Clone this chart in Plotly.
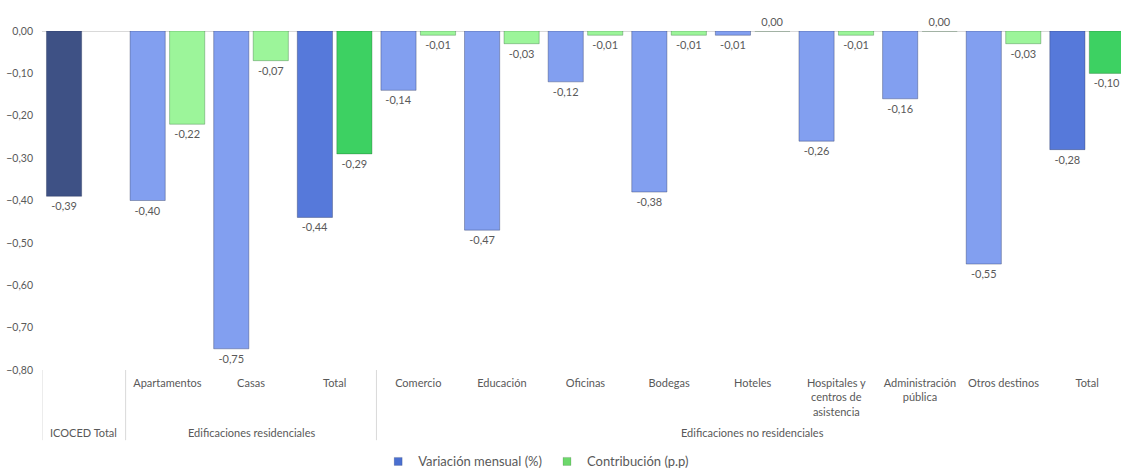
import plotly.graph_objects as go

# Category structure: sub-categories and the group each belongs to
grupos = ["ICOCED Total",
          "Edificaciones residenciales", "Edificaciones residenciales", "Edificaciones residenciales",
          "Edificaciones no residenciales", "Edificaciones no residenciales", "Edificaciones no residenciales",
          "Edificaciones no residenciales", "Edificaciones no residenciales", "Edificaciones no residenciales",
          "Edificaciones no residenciales", "Edificaciones no residenciales", "Edificaciones no residenciales"]
categorias = ["", "Apartamentos", "Casas", "Total",
              "Comercio", "Educación", "Oficinas", "Bodegas", "Hoteles",
              "Hospitales y<br>centros de<br>asistencia", "Administración<br>pública",
              "Otros destinos", "Total"]

# Series values
variacion_mensual = [-0.39, -0.40, -0.75, -0.44, -0.14, -0.47, -0.12, -0.38, -0.01, -0.26, -0.16, -0.55, -0.28]
contribucion = [None, -0.22, -0.07, -0.29, -0.01, -0.03, -0.01, -0.01, 0.00, -0.01, 0.00, -0.03, -0.10]

# Y axis ticks
y_ticks = [0.0, -0.1, -0.2, -0.3, -0.4, -0.5, -0.6, -0.7, -0.8]

AZUL_ICOCED = "#3E5185"
AZUL_CLARO = "#829FF0"
AZUL_TOTAL = "#5679DA"
VERDE_CLARO = "#9CF59A"
VERDE_TOTAL = "#3DD162"
AZUL_LEYENDA = "#4A6FD0"
VERDE_LEYENDA = "#6DD86B"
TEXTO = "#595959"
DIVISOR = "#D9D9D9"
FUENTE = "Lato"

posiciones = list(range(len(categorias)))
es_total = [c == "Total" for c in categorias]
colores_var = [AZUL_ICOCED] + [AZUL_TOTAL if t else AZUL_CLARO for t in es_total[1:]]
colores_con = [VERDE_TOTAL if t else VERDE_CLARO for t in es_total]

fig = go.Figure()
fig.add_trace(go.Bar(
    x=posiciones, y=variacion_mensual, name="Variación mensual (%)", showlegend=False,
    marker=dict(color=colores_var, line=dict(color="rgba(30,40,80,0.35)", width=1)),
    texttemplate="%{y:.2f}", textposition="outside", cliponaxis=False,
    constraintext="none", textfont=dict(size=11, color=TEXTO, family=FUENTE),
))
fig.add_trace(go.Bar(
    x=posiciones, y=contribucion, name="Contribución (p.p)", showlegend=False,
    marker=dict(color=colores_con, line=dict(color="rgba(20,80,30,0.3)", width=1)),
    texttemplate="%{y:.2f}", textposition="outside", cliponaxis=False,
    constraintext="none", textfont=dict(size=11, color=TEXTO, family=FUENTE),
))

# Legend entries with small square swatches
for nombre, color in [("Variación mensual (%)", AZUL_LEYENDA), ("Contribución (p.p)", VERDE_LEYENDA)]:
    fig.add_trace(go.Scatter(
        x=[None], y=[None], mode="markers", name=nombre,
        marker=dict(symbol="square", size=8, color=color,
                    line=dict(color="rgba(0,0,0,0.25)", width=0.5)),
        hoverinfo="skip",
    ))

# Group labels centred under their sub-categories, with dividers between groups
orden_grupos = []
for g in grupos:
    if g not in orden_grupos:
        orden_grupos.append(g)

Y_ETIQUETA_GRUPO = -0.183
Y_FIN_DIVISOR = -0.207
bordes = [-0.5]
for g in orden_grupos:
    idx = [i for i, gg in enumerate(grupos) if gg == g]
    fig.add_annotation(
        x=(idx[0] + idx[-1]) / 2, y=Y_ETIQUETA_GRUPO, xref="x", yref="paper",
        text=g, showarrow=False, xanchor="center", yanchor="middle",
        font=dict(size=11, color=TEXTO, family=FUENTE),
    )
    bordes.append(idx[-1] + 0.5)
for b in bordes:
    fig.add_shape(
        type="line", x0=b, x1=b, y0=0, y1=Y_FIN_DIVISOR, xref="x", yref="paper",
        line=dict(color=DIVISOR, width=1),
    )

fig.update_layout(
    width=1121, height=468,
    margin=dict(l=42, r=0, t=31, b=98),
    paper_bgcolor="white", plot_bgcolor="white",
    separators=",.",
    barmode="group", bargap=0.055, bargroupgap=0.11,
    font=dict(family=FUENTE, size=11, color=TEXTO),
    showlegend=True,
    legend=dict(orientation="h", x=0.458, xanchor="center",
                yref="container", y=0.014, yanchor="middle",
                font=dict(size=13, color=TEXTO, family=FUENTE),
                itemwidth=30, tracegroupgap=0),
)
fig.update_xaxes(
    range=[-0.5, 12.405], tickvals=posiciones, ticktext=categorias,
    showline=False, ticks="", showgrid=False, zeroline=False, ticklabelstandoff=5,
    tickfont=dict(size=11, color=TEXTO, family=FUENTE),
    automargin=False,
)
fig.update_yaxes(
    range=[-0.8, 0.0], tickvals=y_ticks, tickformat=".2f",
    showgrid=False, zeroline=True, zerolinecolor=DIVISOR, zerolinewidth=1,
    showline=False, ticks="", ticklabelstandoff=8,
    tickfont=dict(size=10.5, color=TEXTO, family=FUENTE),
    automargin=False,
)

fig.write_html("out.html")
